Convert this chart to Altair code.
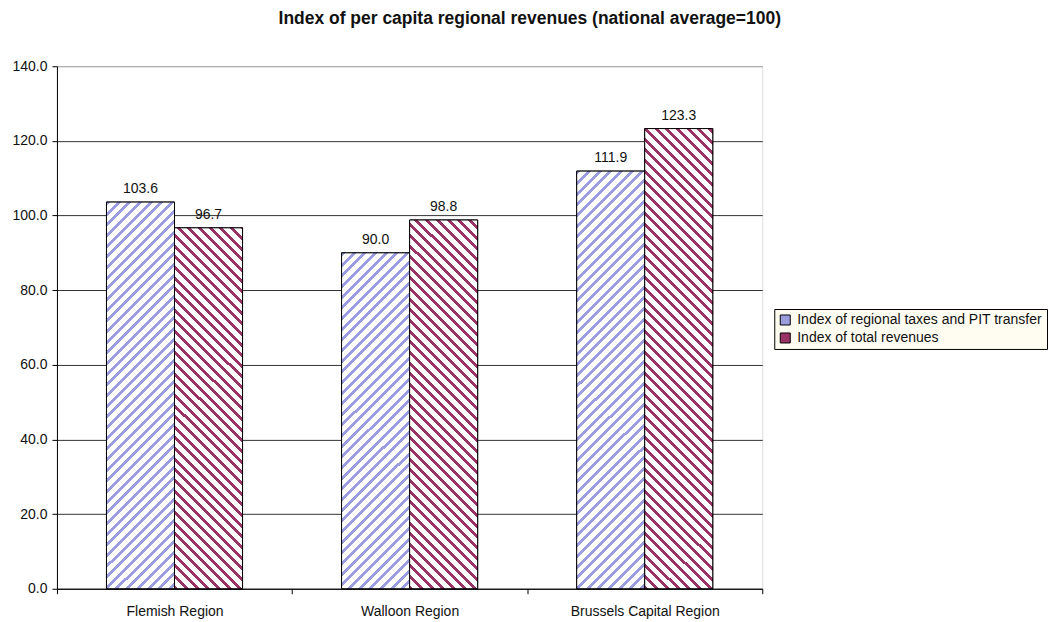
import altair as alt
import pandas as pd

regions = ["Flemish Region", "Walloon Region", "Brussels Capital Region"]
series = ["Index of regional taxes and PIT transfer", "Index of total revenues"]
taxes_pit = [103.6, 90.0, 111.9]
total_rev = [96.7, 98.8, 123.3]

colors = ["#9C9CE0", "#993366"]

rows = []
for i, r in enumerate(regions):
    rows.append({"region": r, "series": series[0], "value": taxes_pit[i], "k": 2 * i})
    rows.append({"region": r, "series": series[1], "value": total_rev[i], "k": 2 * i + 1})
df = pd.DataFrame(rows)

W, H = 706, 523
YMAX = 140
BAR_W = 68.0
PERIOD = 10.67
FRAC = 0.375
FONT = "Liberation Sans"


def hatch(color, value, up):
    h = value / YMAX * H
    w = BAR_W
    d = w * w + h * h
    p = PERIOD * w / d
    stops = []
    k = 0
    while k * p <= 1.0:
        a = k * p
        b = min(a + FRAC * p, 1.0)
        c = min((k + 1) * p, 1.0)
        stops += [
            {"offset": round(a, 6), "color": color},
            {"offset": round(b, 6), "color": color},
            {"offset": round(b, 6), "color": "#FFFFFF"},
            {"offset": round(c, 6), "color": "#FFFFFF"},
        ]
        k += 1
    if up:
        g = {"gradient": "linear", "x1": 0, "y1": 0, "x2": 1, "y2": round(h / w, 6), "stops": stops}
    else:
        g = {"gradient": "linear", "x1": 0, "y1": 1, "x2": 1, "y2": round(1 - h / w, 6), "stops": stops}
    return g


x_enc = alt.X(
    "region:N",
    sort=regions,
    title=None,
    scale=alt.Scale(paddingInner=0, paddingOuter=0),
    axis=alt.Axis(
        labelAngle=0,
        labelFont=FONT,
        labelFontSize=14,
        labelColor="#111111",
        labelPadding=11,
        tickBand="extent",
        tickSize=5,
        tickColor="#000000",
        domainColor="#000000",
        grid=False,
    ),
)
xo_enc = alt.XOffset(
    "series:N",
    sort=series,
    scale=alt.Scale(domain=series, paddingInner=0, paddingOuter=(705.0 / 3 / BAR_W - 2) / 2),
)
y_enc = alt.Y(
    "value:Q",
    title=None,
    scale=alt.Scale(domain=[0, YMAX], nice=False),
    axis=alt.Axis(
        values=[0, 20, 40, 60, 80, 100, 120, 140],
        format=".1f",
        labelFont=FONT,
        labelFontSize=14,
        labelColor="#111111",
        labelPadding=5,
        tickSize=5,
        tickColor="#000000",
        domainColor="#000000",
        gridColor={"condition": {"test": "datum.value === 140", "value": "#A0A0A0"}, "value": "#333333"},
        gridWidth=1,
    ),
)

base = alt.Chart(df).mark_bar(stroke="#000000", strokeWidth=1).encode(
    x=x_enc,
    xOffset=xo_enc,
    y=y_enc,
    fill=alt.Fill(
        "series:N",
        sort=series,
        scale=alt.Scale(domain=series, range=colors),
        legend=alt.Legend(
            title=None,
            orient="none",
            legendX=718,
            legendY=243,
            labelFont=FONT,
            labelFontSize=14,
            labelColor="#111111",
            labelLimit=0,
            symbolType="square",
            symbolSize=100,
            symbolStrokeColor="#000000",
            symbolStrokeWidth=1,
            labelOffset=5,
            rowPadding=4,
            padding=4,
            fillColor="#FFFDF2",
            strokeColor="#000000",
        ),
    ),
)

layers = [base]
for i in range(len(regions)):
    for j, (vals, up) in enumerate([(taxes_pit, True), (total_rev, False)]):
        k = 2 * i + j
        layers.append(
            alt.Chart(df)
            .transform_filter(f"datum.k == {k}")
            .mark_bar(stroke="#000000", strokeWidth=1)
            .encode(
                x=x_enc,
                xOffset=xo_enc,
                y=y_enc,
                fill=alt.value(hatch(colors[j], vals[i], up)),
            )
        )

labels = alt.Chart(df).mark_text(
    font=FONT, fontSize=14, color="#111111", baseline="alphabetic", dy=-9
).encode(
    x=x_enc,
    xOffset=xo_enc,
    y=y_enc,
    text=alt.Text("value:Q", format=".1f"),
)
layers.append(labels)

chart = (
    alt.layer(*layers)
    .properties(
        width=W,
        height=H,
        padding={"left": 3, "top": 1, "right": 0, "bottom": 0},
        title=alt.Title(
            "Index of per capita regional revenues (national average=100)",
            font=FONT,
            fontSize=17.5,
            fontWeight="bold",
            color="#111111",
            anchor="middle",
            frame="bounds",
            offset=32,
        ),
    )
    .configure_view(stroke="#A0A0A0", strokeWidth=1)
    .configure(background="#FFFFFF")
)

chart.save("out.html", embed_options={"renderer": "svg", "actions": False})
